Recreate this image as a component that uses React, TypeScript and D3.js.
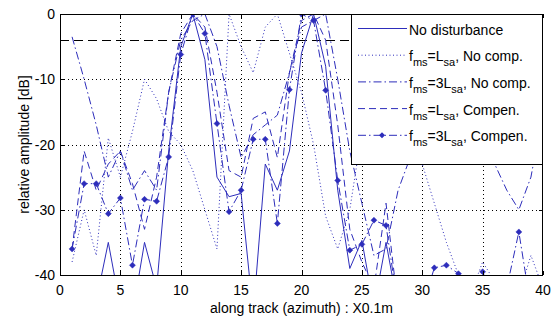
import React, { useEffect, useRef } from "react";
import * as d3 from "d3";

const W = 553;
const H = 320;
const margin = { left: 60, right: 10, top: 14, bottom: 45 };

// along track positions (x 0.1 m)
const azimuth = [1, 2, 3, 4, 5, 6, 7, 8, 9, 10, 11, 12, 13, 14, 15, 16, 17, 18, 19, 20,
  21, 22, 23, 24, 25, 26, 27, 28, 29, 30, 31, 32, 33, 34, 35, 36, 37, 38, 39, 40];

const noDisturbance = [-46, -45, -44, -35, -45, -46, -35, -42, -21, -5, 0, -7, -25, -28, -27.5, -46, -23, -27, -21, -6,
  0, -8, -27, -39, -34.7, -45, -35, -45, -50, -50, -50, -50, -50, -50, -50, -50, -50, -50, -50, -50];

const lsaNoComp = [-38, -30, -37, -19, -25, -18, -10, -13, -18, -20, -24, -30, -36, 0, -5, -9, -2, 0, -6, -12,
  -20, -31, -36, -30, -18, -8, -4, -6, -14, -23, -29, -35, -40, -43, -38, -41, -44, -43, -37, -42];

const lsa3NoComp = [-3.5, -10, -17, -25, -21, -27, -24, -27, -12, -4, -1, 0, -5, -14, -22, -18.5, -17, -15.5, -9, -2,
  -1, 0, -10, -21, -29, -37, -36, -27, -22, -8, -3, -6, -9, -5, -12, -23, -27, -30, -25, -15];

const lsaCompen = [-36, -21, -27, -23, -21, -26, -33, -25, -12, -3, 0, -2, -12, -24, -25, -16, -15, -22, -9, -1,
  0, -4, -17, -33, -38, -42, -29, -45, -50, -50, -50, -50, -50, -50, -50, -50, -50, -50, -50, -50];

const lsa3Compen = [-36, -26, -26, -30.6, -28.2, -38.5, -28.4, -28.7, -21.9, -6.2, 0, -3, -16.8, -30.3, -27, -19.2, -19.2, -32.1, -11.6, 0,
  -1, -11.7, -25.5, -36.2, -35.3, -31.6, -32.4, -45, -48, -45, -38.9, -38.5, -39.8, -42, -39.5, -44, -42, -33.4, -45, -44];

const xTicks = [0, 5, 10, 15, 20, 25, 30, 35, 40];
const yTicks = [0, -10, -20, -30, -40];
const refLevel = -4;

const seriesNames = ["No disturbance", "fms=Lsa, No comp.", "fms=3Lsa, No comp.", "fms=Lsa, Compen.", "fms=3Lsa, Compen."];
// legend labels split in [text, isSubscript] pieces
const legendParts: [string, boolean][][] = [
  [["No disturbance", false]],
  [["f", false], ["ms", true], ["=L", false], ["sa", true], [", No comp.", false]],
  [["f", false], ["ms", true], ["=3L", false], ["sa", true], [", No comp.", false]],
  [["f", false], ["ms", true], ["=L", false], ["sa", true], [", Compen.", false]],
  [["f", false], ["ms", true], ["=3L", false], ["sa", true], [", Compen.", false]],
];

const BLUE = "#2d2dbb";
const FONT = "'Liberation Sans', Arial, sans-serif";

export default function App() {
  const ref = useRef<SVGSVGElement>(null);

  useEffect(() => {
    const svg = d3.select(ref.current);
    svg.selectAll("*").remove();

    const x = d3.scaleLinear().domain([0, 40]).range([margin.left, W - margin.right]);
    const y = d3.scaleLinear().domain([-40, 0]).range([H - margin.bottom, margin.top]);
    const x0 = x(0), x1 = x(40), y0 = y(0), y1 = y(-40);

    svg.append("rect").attr("width", W).attr("height", H).attr("fill", "#fff");

    svg.append("defs").append("clipPath").attr("id", "plotclip")
      .append("rect").attr("x", x0).attr("y", y0).attr("width", x1 - x0).attr("height", y1 - y0);

    // grid
    const grid = svg.append("g").attr("stroke", "#000").attr("stroke-width", 1)
      .attr("stroke-dasharray", "1,3");
    grid.selectAll(".gx").data(xTicks.filter(d => d > 0 && d < 40)).enter().append("line")
      .attr("x1", d => Math.round(x(d)) + 0.5).attr("x2", d => Math.round(x(d)) + 0.5)
      .attr("y1", y0).attr("y2", y1);
    grid.selectAll(".gy").data(yTicks.filter(d => d < 0 && d > -40)).enter().append("line")
      .attr("y1", d => Math.round(y(d)) + 0.5).attr("y2", d => Math.round(y(d)) + 0.5)
      .attr("x1", x0).attr("x2", x1);

    // reference level
    svg.append("line")
      .attr("x1", x0).attr("x2", x1)
      .attr("y1", Math.round(y(refLevel)) + 0.5).attr("y2", Math.round(y(refLevel)) + 0.5)
      .attr("stroke", "#000").attr("stroke-dasharray", "9,5");

    const plot = svg.append("g").attr("clip-path", "url(#plotclip)");
    const line = d3.line<number>().x((_, i) => x(azimuth[i])).y(d => y(d));

    const styles = [
      { data: noDisturbance, dash: null },
      { data: lsaNoComp, dash: "1,2.5" },
      { data: lsa3NoComp, dash: "8,3,1.5,3" },
      { data: lsaCompen, dash: "7,4" },
      { data: lsa3Compen, dash: "8,3,1.5,3" },
    ];

    styles.forEach(s => {
      plot.append("path").attr("d", line(s.data)).attr("fill", "none")
        .attr("stroke", BLUE).attr("stroke-width", 1)
        .attr("stroke-dasharray", s.dash);
    });

    const diamond = (cx: number, cy: number, r: number) =>
      `M${cx},${cy - r}L${cx + r},${cy}L${cx},${cy + r}L${cx - r},${cy}Z`;

    plot.selectAll(".mk").data(lsa3Compen).enter().append("path")
      .attr("d", (d, i) => diamond(x(azimuth[i]), y(d), 3))
      .attr("fill", BLUE).attr("stroke", BLUE).attr("stroke-width", 0.5);

    // axes box
    svg.append("rect").attr("x", x0 + 0.5).attr("y", y0 + 0.5)
      .attr("width", x1 - x0 - 1).attr("height", y1 - y0)
      .attr("fill", "none").attr("stroke", "#000");

    // ticks inward
    const tk = svg.append("g").attr("stroke", "#000");
    xTicks.forEach(t => {
      const px = Math.round(x(t)) + 0.5;
      tk.append("line").attr("x1", px).attr("x2", px).attr("y1", y1).attr("y2", y1 - 4);
      tk.append("line").attr("x1", px).attr("x2", px).attr("y1", y0).attr("y2", y0 + 4);
    });
    yTicks.forEach(t => {
      const py = Math.round(y(t)) + 0.5;
      tk.append("line").attr("x1", x0).attr("x2", x0 + 4).attr("y1", py).attr("y2", py);
      tk.append("line").attr("x1", x1).attr("x2", x1 - 4).attr("y1", py).attr("y2", py);
    });

    const txt = svg.append("g").attr("font-family", FONT).attr("font-size", 14).attr("fill", "#000");
    xTicks.forEach(t => {
      txt.append("text").attr("x", x(t)).attr("y", y1 + 20).attr("text-anchor", "middle").text(t);
    });
    yTicks.forEach(t => {
      txt.append("text").attr("x", x0 - 5).attr("y", y(t) + 5).attr("text-anchor", "end").text(t);
    });
    txt.append("text").attr("x", (x0 + x1) / 2).attr("y", 313).attr("text-anchor", "middle")
      .text("along track (azimuth) : X0.1m");
    txt.append("text").attr("transform", `translate(29,${(y0 + y1) / 2}) rotate(-90)`)
      .attr("text-anchor", "middle").text("relative amplitude [dB]");

    // legend
    const lg = svg.append("g").attr("font-family", FONT).attr("font-size", 14);
    lg.append("rect").attr("x", 351.5).attr("y", y0 + 0.5).attr("width", x1 - 351.5 - 0.5).attr("height", 150)
      .attr("fill", "#fff").attr("stroke", "#000");
    seriesNames.forEach((name, i) => {
      const ly = 28.5 + i * 26.7;
      lg.append("line").attr("x1", 358).attr("x2", 407).attr("y1", ly).attr("y2", ly)
        .attr("stroke", BLUE).attr("stroke-dasharray", styles[i].dash);
      if (i === 4) {
        lg.append("path").attr("d", diamond(382, ly, 3)).attr("fill", BLUE);
      }
      const t = lg.append("text").attr("x", 409).attr("y", ly + 6).attr("fill", "#000").attr("data-name", name);
      legendParts[i].forEach(([s, sub]) => {
        if (sub) {
          t.append("tspan").attr("font-size", 11).attr("dy", 5).text(s);
        } else {
          const sp = t.append("tspan").text(s);
          if (s !== legendParts[i][0][0]) sp.attr("dy", -5);
        }
      });
    });
  }, []);

  return (
    <svg ref={ref} width={W} height={H}
      style={{ position: "absolute", left: 0, top: 0, background: "#fff" }} />
  );
}
